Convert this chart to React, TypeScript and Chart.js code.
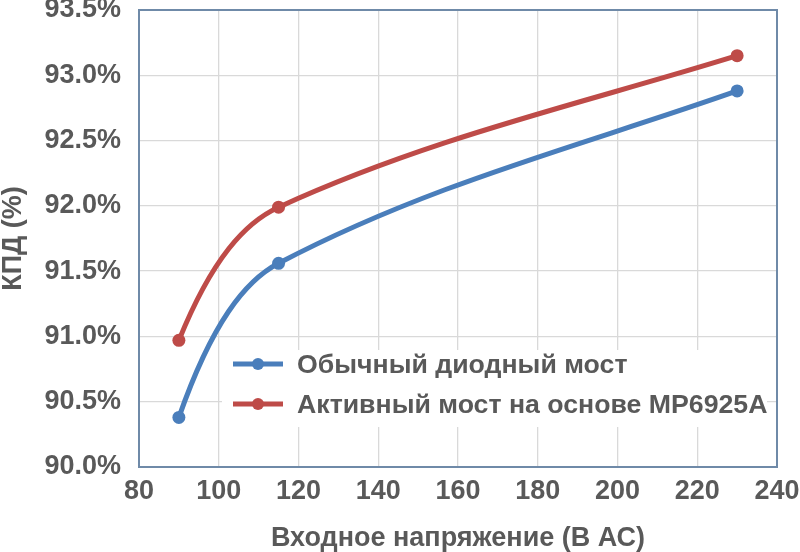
import React, { useEffect, useRef } from "react";
import { Chart, registerables } from "chart.js";

Chart.register(...registerables);

const voltages = [90, 115, 230];
const standardBridge = [90.38, 91.56, 92.88];
const activeBridge = [90.97, 91.99, 93.15];
const seriesLabels = ["Обычный диодный мост", "Активный мост на основе MP6925A"];
const xTitle = "Входное напряжение (В АС)";
const yTitle = "КПД (%)";

const BLUE = "#4a7ebb";
const RED = "#be4b48";
const TEXT = "#595959";
const FONT = "'Liberation Sans', Arial, sans-serif";

// Spreadsheet-style smoothing: reshape the bezier handles of the points Chart.js placed
const smooth = {
  id: "smooth",
  beforeDatasetDraw(chart: any, args: any) {
    const meta = args.meta;
    const line = meta.dataset;
    if (!line) return;
    line.updateControlPoints(chart.chartArea, "x");
    const pts = meta.data;
    const n = pts.length;
    if (n < 3) return;
    const slopes: number[] = [];
    for (let i = 0; i < n; i++) {
      if (i === 0) {
        slopes.push(1.85 * (pts[1].y - pts[0].y) / (pts[1].x - pts[0].x));
      } else if (i === n - 1) {
        slopes.push(0.94 * (pts[i].y - pts[i - 1].y) / (pts[i].x - pts[i - 1].x));
      } else {
        slopes.push(0.9 * (pts[i + 1].y - pts[i - 1].y) / (pts[i + 1].x - pts[i - 1].x));
      }
    }
    for (let i = 0; i < n; i++) {
      const p = pts[i];
      if (i > 0) {
        const h = (p.x - pts[i - 1].x) / 3;
        p.cp1x = p.x - h;
        p.cp1y = p.y - slopes[i] * h;
      }
      if (i < n - 1) {
        const h = (pts[i + 1].x - p.x) / 3;
        p.cp2x = p.x + h;
        p.cp2y = p.y + slopes[i] * h;
      }
    }
  },
};

const frame = {
  id: "frame",
  beforeDatasetsDraw(chart: any) {
    const { ctx, chartArea: a } = chart;
    ctx.save();
    ctx.strokeStyle = "#6f8aa8";
    ctx.lineWidth = 2;
    ctx.strokeRect(a.left, a.top, a.right - a.left, a.bottom - a.top);
    ctx.restore();
  },
};

const legendBox = {
  id: "legendBox",
  afterDatasetsDraw(chart: any) {
    const { ctx, chartArea: a } = chart;
    const left = a.left + 83;
    const top = a.top + 340;
    ctx.save();
    ctx.fillStyle = "#ffffff";
    ctx.fillRect(left, top, 545, 77);
    ctx.font = `bold 26.7px ${FONT}`;
    ctx.textBaseline = "middle";
    chart.data.datasets.forEach((ds: any, i: number) => {
      const cy = top + 14 + i * 40;
      const lx = left + 11;
      ctx.strokeStyle = ds.borderColor;
      ctx.lineWidth = 5;
      ctx.beginPath();
      ctx.moveTo(lx, cy);
      ctx.lineTo(lx + 50, cy);
      ctx.stroke();
      ctx.fillStyle = ds.borderColor;
      ctx.beginPath();
      ctx.arc(lx + 25, cy, 6, 0, Math.PI * 2);
      ctx.fill();
      ctx.fillStyle = TEXT;
      ctx.fillText(ds.label, lx + 64, cy + 2);
    });
    ctx.restore();
  },
};

export default function App() {
  const ref = useRef<HTMLCanvasElement>(null);
  useEffect(() => {
    document.body.style.margin = "0";
    const c = new Chart(ref.current!, {
      type: "line",
      data: {
        datasets: [
          {
            label: seriesLabels[0],
            data: voltages.map((v, i) => ({ x: v, y: standardBridge[i] })),
            borderColor: BLUE,
            backgroundColor: BLUE,
          },
          {
            label: seriesLabels[1],
            data: voltages.map((v, i) => ({ x: v, y: activeBridge[i] })),
            borderColor: RED,
            backgroundColor: RED,
          },
        ],
      },
      options: {
        animation: false,
        responsive: false,
        maintainAspectRatio: false,
        layout: { padding: 0 },
        elements: {
          line: { borderWidth: 5, tension: 0.5, capBezierPoints: false },
          point: { radius: 6.5, hoverRadius: 6.5, borderWidth: 0 },
        },
        plugins: { legend: { display: false }, tooltip: { enabled: false } },
        scales: {
          x: {
            type: "linear",
            min: 80,
            max: 240,
            ticks: {
              stepSize: 20,
              color: TEXT,
              font: { family: FONT, size: 27, weight: "bold" },
              padding: 8,
            },
            grid: { color: "#d9d9d9", lineWidth: 1.3, drawTicks: false },
            border: { display: false },
            title: {
              display: true,
              text: xTitle,
              color: TEXT,
              font: { family: FONT, size: 27, weight: "bold", lineHeight: 1 },
              padding: { top: 0, bottom: 0 },
            },
            afterFit: (s: any) => {
              s.height = 85;
              s.paddingRight = 23;
            },
          },
          y: {
            min: 90,
            max: 93.5,
            ticks: {
              stepSize: 0.5,
              color: TEXT,
              font: { family: FONT, size: 27, weight: "bold" },
              padding: 18,
              callback: (v: any) => Number(v).toFixed(1) + "%",
            },
            grid: { color: "#d9d9d9", lineWidth: 1.3, drawTicks: false },
            border: { display: false },
            title: {
              display: true,
              text: yTitle,
              color: TEXT,
              font: { family: FONT, size: 27, weight: "bold", lineHeight: 1 },
              padding: { top: 0, bottom: 0 },
            },
            afterFit: (s: any) => {
              s.width = 139;
              s.paddingTop = 10;
              s.paddingBottom = 0;
            },
          },
        },
      },
      plugins: [frame, smooth, legendBox],
    });
    return () => c.destroy();
  }, []);
  return <canvas ref={ref} width={800} height={552} style={{ display: "block" }} />;
}
